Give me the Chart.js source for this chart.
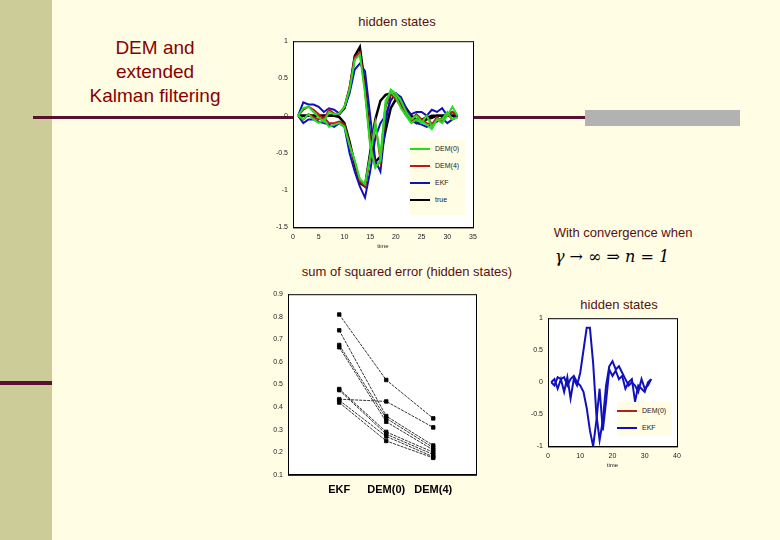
<!DOCTYPE html>
<html><head><meta charset="utf-8">
<script src="https://cdn.jsdelivr.net/npm/chart.js"></script>
<style>
body{margin:0;width:780px;height:540px;background:#fffde4;position:relative;overflow:hidden;font-family:"Liberation Sans",Arial,sans-serif}
.a{position:absolute}
canvas{position:absolute}
.t{position:absolute;color:#5a1010;font-size:13px;white-space:nowrap;transform:translateX(-50%)}
.lg{position:absolute;background:#fffde4;font-size:7px;color:#222}
.lg div{height:17px;display:flex;align-items:center}
.lg span{display:inline-block;width:20px;height:2px;margin-right:5px}
</style></head><body>
<div class="a" style="left:0;top:0;width:52px;height:540px;background:#cccc99"></div>
<div class="a" style="left:0;top:381px;width:52px;height:4px;background:#5a1030"></div>
<div class="a" style="left:33px;top:116px;width:552px;height:3px;background:#5a1030"></div>
<div class="a" style="left:585px;top:110px;width:155px;height:16px;background:#b2b2b2"></div>
<div class="t" style="left:155px;top:36px;font-size:19px;color:#8b0000;text-align:center;line-height:24px">DEM and<br>extended<br>Kalman filtering</div>
<div class="t" style="left:397px;top:14px">hidden states</div>
<div class="t" style="left:623px;top:225px">With convergence when</div>
<div class="t" style="left:612px;top:247px;font-family:'DejaVu Serif',serif;font-size:16px;color:#000;font-style:italic">γ → ∞ ⇒ n = 1</div>
<div class="t" style="left:407px;top:264px">sum of squared error (hidden states)</div>
<div class="t" style="left:619px;top:297px">hidden states</div>
<canvas id="c1" style="left:270px;top:35px" width="215" height="215"></canvas>
<canvas id="c2" style="left:265px;top:288px" width="220" height="215"></canvas>
<canvas id="c3" style="left:525px;top:312px" width="165" height="160"></canvas>
<div class="lg" style="left:410px;top:140px;width:55px;height:75px">
<div><span style="background:#22dd22"></span>DEM(0)</div><div><span style="background:#cc1111"></span>DEM(4)</div><div><span style="background:#1111bb"></span>EKF</div><div><span style="background:#000"></span>true</div></div>
<div class="lg" style="left:617px;top:402px;width:55px;height:34px">
<div><span style="background:#aa2222"></span>DEM(0)</div><div><span style="background:#1111bb"></span>EKF</div></div>
<script>
const time=[1,2,3,4,5,6,7,8,9,10,11,12,13,14,15,16,17,18,19,20,21,22,23,24,25,26,27,28,29,30,31,32];
const true1=[0,0,0,0,0,0,0,0,0.02,0.1,0.35,0.8,0.92,0.4,-0.3,-0.62,-0.55,-0.2,0.1,0.22,0.2,0.1,0,-0.05,-0.05,-0.03,0,0,0,0,0,0];
const true2=[0,0,0,0,0,0,0,0,-0.02,-0.1,-0.35,-0.65,-0.9,-0.95,-0.5,-0.05,0.2,0.28,0.3,0.25,0.15,0.05,-0.05,-0.1,-0.08,-0.05,-0.03,0,0,0,0,0];
const dem0a=[0,0.1,0.12,0.05,-0.02,-0.08,0.05,0.02,0.03,0.12,0.35,0.75,0.82,0.3,-0.4,-0.7,-0.6,0.15,0.35,0.3,0.2,0.05,-0.05,0,-0.08,-0.12,-0.18,-0.05,-0.1,0,0.12,0];
const dem0b=[0,-0.05,0.02,-0.05,-0.1,-0.05,-0.15,-0.12,-0.1,-0.15,-0.4,-0.6,-0.85,-0.92,-0.55,-0.1,-0.55,0.2,0.32,0.25,0.1,0,-0.1,-0.05,-0.1,0,-0.15,-0.05,-0.05,0.05,-0.05,-0.02];
const dem4a=[0,0.08,0.12,0.08,0.02,-0.05,0.08,0.03,0.02,0.12,0.38,0.78,0.85,0.35,-0.35,-0.68,-0.62,0.12,0.3,0.28,0.18,0.05,-0.05,0.02,-0.05,-0.1,-0.12,-0.02,-0.08,0.02,0.05,0];
const dem4b=[0,-0.05,0.02,-0.02,-0.05,-0.02,-0.1,-0.1,-0.08,-0.12,-0.38,-0.62,-0.88,-0.95,-0.55,-0.1,-0.6,0.15,0.3,0.22,0.12,0,-0.08,-0.05,-0.08,0,-0.12,-0.05,-0.05,0.02,-0.05,-0.02];
const ekfa=[0,0.18,0.15,0.15,0.12,0.05,0.1,0.08,0.03,0.1,0.3,0.62,0.7,0.6,0.0,-0.6,-0.75,-0.1,0.28,0.3,0.15,0.05,0.02,0.05,0.05,0,0.08,0.05,0.1,0,0.05,0];
const ekfb=[0,-0.1,-0.05,-0.05,-0.08,-0.1,-0.12,-0.15,-0.1,-0.15,-0.5,-0.75,-0.95,-1.1,-0.75,-0.3,-0.1,0.0,0.2,0.3,0.25,0.1,-0.05,-0.1,-0.12,-0.15,-0.12,-0.08,-0.03,-0.1,-0.05,0];
const ekf3a=[0,0.05,-0.1,0.05,-0.15,0.08,-0.25,0.05,-0.05,0.15,0.5,0.85,0.85,0.3,-0.5,-0.9,-0.6,-0.05,0.25,0.33,0.2,0.25,0.15,0.05,-0.05,0,-0.05,-0.15,0.05,-0.1,-0.05,0.05];
const ekf3b=[0,-0.05,0.08,0.05,0.08,-0.05,0.05,0.1,0,-0.05,-0.15,-0.4,-0.75,-1.0,-0.6,-0.1,-0.75,-0.3,0.2,0.1,0.18,0.05,0.1,-0.1,0,0.05,-0.3,-0.05,-0.1,-0.15,0,0.05];
const sseCats=['EKF','DEM(0)','DEM(4)'];
const sseRuns=[[0.81,0.52,0.35],[0.74,0.36,0.23],[0.675,0.35,0.22],[0.665,0.335,0.21],[0.48,0.29,0.2],[0.475,0.28,0.19],[0.435,0.425,0.31],[0.43,0.27,0.18],[0.42,0.25,0.175]];

const white={id:'w',beforeDraw(c){const a=c.chartArea,x=c.ctx;x.save();x.fillStyle='#fff';x.fillRect(a.left,a.top,a.width,a.height);x.restore();}};
const frame={id:'f',afterDraw(c){const a=c.chartArea,x=c.ctx;x.save();x.strokeStyle='#000';x.lineWidth=1;x.strokeRect(a.left+.5,a.top+.5,a.width,a.height);x.restore();}};
Chart.defaults.font.family='Liberation Sans';Chart.defaults.font.size=7;Chart.defaults.color='#222';
function ln(d,c,w){return{data:time.map((t,i)=>({x:t,y:d[i]})),borderColor:c,borderWidth:w||2,pointRadius:0,tension:0};}
const fmt=v=>String(Math.round(v*10)/10);
const ax=(min,max,step,title,yw)=>({type:'linear',min,max,afterFit:yw?(a=>{a.width=yw;}):undefined,ticks:{stepSize:step,padding:2,callback:fmt},grid:{display:false,drawTicks:true,tickLength:3},border:{color:'#000'},title:{display:!!title,text:title,font:{size:6},padding:0}});
new Chart(c1,{type:'line',data:{datasets:[ln(dem0a,'#22dd22'),ln(dem0b,'#22dd22'),ln(dem4a,'#cc1111'),ln(dem4b,'#cc1111'),ln(ekfa,'#1111bb'),ln(ekfb,'#1111bb'),ln(true1,'#000',2.5),ln(true2,'#000',2.5)]},
options:{responsive:false,animation:false,plugins:{legend:{display:false},tooltip:{enabled:false}},layout:{padding:{right:12,top:2}},
scales:{x:ax(0,35,5,'time'),y:ax(-1.5,1,0.5,null,23)}},plugins:[white,frame]});
new Chart(c2,{type:'line',data:{datasets:sseRuns.map(r=>({data:r.map((v,i)=>({x:i+1,y:v})),borderColor:'#000',backgroundColor:'#000',borderWidth:0.8,borderDash:[3,1],pointStyle:'rect',pointRadius:2.5}))},
options:{responsive:false,animation:false,plugins:{legend:{display:false},tooltip:{enabled:false}},layout:{padding:{right:9,top:2}},
scales:{x:{type:'linear',min:-0.09,max:3.91,afterBuildTicks(a){a.ticks=[1,2,3].map(v=>({value:v}));},ticks:{callback:v=>sseCats[v-1],font:{size:11,weight:'bold'},color:'#000',padding:6},grid:{display:false,tickLength:3},border:{color:'#000'}},
y:ax(0.1,0.9,0.1,null,23)}},plugins:[white,frame]});
new Chart(c3,{type:'line',data:{datasets:[ln(ekf3a,'#1111bb'),ln(ekf3b,'#1111bb')]},
options:{responsive:false,animation:false,plugins:{legend:{display:false},tooltip:{enabled:false}},layout:{padding:{right:13,top:4,bottom:3}},
scales:{x:ax(0,40,10,'time'),y:ax(-1,1,0.5,null,23)}},plugins:[white,frame]});
</script></body></html>
